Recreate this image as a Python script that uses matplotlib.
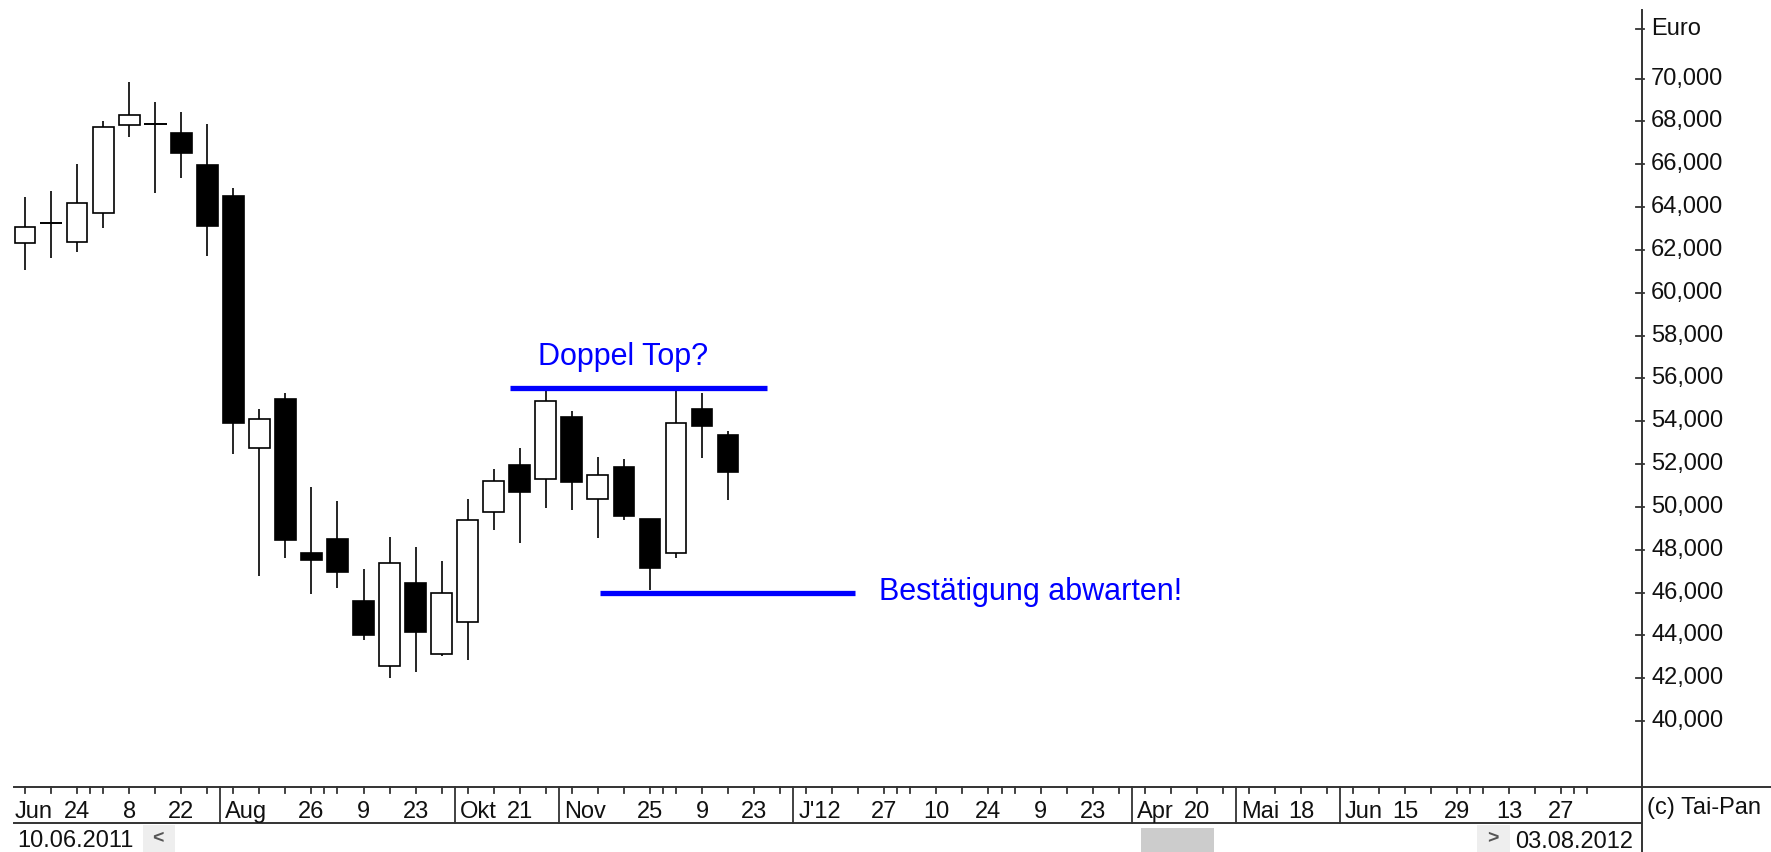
import matplotlib
matplotlib.use("Agg")
import matplotlib.pyplot as plt
from matplotlib.lines import Line2D
from matplotlib.patches import Rectangle
from matplotlib.transforms import blended_transform_factory, offset_copy
import numpy as np

plt.rcParams["font.family"] = ["Liberation Sans", "DejaVu Sans"]

# weekly candles from 10.06.2011 on, prices in Euro
opens = [62.33, 63.27, 62.38, 63.70, 67.83, 67.86, 67.47, 65.96, 64.51, 52.76,
         55.03, 47.86, 48.50, 45.61, 42.58, 46.45, 43.12, 44.63, 49.77, 51.95,
         51.28, 54.21, 50.35, 51.86, 49.44, 47.83, 54.58, 53.37]
highs = [64.48, 64.76, 65.99, 68.03, 69.82, 68.89, 68.42, 67.86, 64.87, 54.57,
         55.30, 50.94, 50.28, 47.09, 48.60, 48.14, 47.47, 50.39, 51.77, 52.73,
         55.45, 54.49, 52.34, 52.25, 49.44, 55.45, 55.33, 53.54]
lows = [61.06, 61.60, 61.91, 63.03, 67.25, 64.64, 65.37, 61.71, 52.46, 46.77,
        47.62, 45.93, 46.19, 43.78, 41.99, 42.27, 43.03, 42.84, 48.92, 48.29,
        49.96, 49.85, 48.56, 49.38, 46.11, 47.59, 52.26, 50.32]
closes = [63.08, 63.27, 64.17, 67.75, 68.31, 67.86, 66.51, 63.13, 53.90, 54.09,
          48.45, 47.51, 46.94, 44.04, 47.37, 44.14, 45.96, 49.41, 51.20, 50.70,
          54.94, 51.16, 51.47, 49.58, 47.13, 53.93, 53.77, 51.62]

y_ticks = np.arange(40, 71, 2)

# date axis: one tick per week (61 weeks up to 03.08.2012)
n_weeks = 61
day_pos = [2, 4, 6, 11, 13, 15, 19, 24, 26, 28, 33, 35, 37, 39, 41, 45, 49, 53, 55, 57, 59]
day_labels = ["24", "8", "22", "26", "9", "23", "21", "25", "9", "23", "27", "10",
              "24", "9", "23", "20", "18", "15", "29", "13", "27"]
month_pos = [7.5, 16.5, 20.5, 29.5, 42.5, 46.5, 50.5]
month_labels = ["Aug", "Okt", "Nov", "J'12", "Apr", "Mai", "Jun"]
minor_month_pos = [2.5, 11.5, 24.5, 33.5, 37.5, 55.5, 59.5]

top_level = 55.53
bottom_level = 46.0

W, H = 1771, 852
AXIS_X = 1641


def fx(x):
    return x / W


def fy(y):
    return 1 - y / H


fig = plt.figure(figsize=(W / 100, H / 100), dpi=100)
fig.patch.set_facecolor("white")

ax = fig.add_axes([0, fy(787), fx(AXIS_X), (787 - 10) / H])
ax.set_xlim(-25 / 26.04, (AXIS_X - 25) / 26.04)
ax.set_ylim(36.92, 73.2)
ax.axis("off")

# candles
for i in range(len(opens)):
    o, h, l, c = opens[i], highs[i], lows[i], closes[i]
    ax.vlines(i, l, h, color="black", lw=1.2, zorder=2)
    if o == c:
        ax.hlines(o, i - 0.44, i + 0.44, color="black", lw=1.4, zorder=3)
    else:
        face = "white" if c > o else "black"
        ax.add_patch(Rectangle((i - 0.4, min(o, c)), 0.8, abs(c - o),
                               facecolor=face, edgecolor="black", lw=1.2, zorder=3))

# double top lines
blue = "#0000ff"
ax.hlines(top_level, 18.63, 28.5, color=blue, lw=3.8, zorder=4)
ax.hlines(bottom_level, 22.08, 31.87, color=blue, lw=3.8, zorder=4)
ax.text(19.7, 56.62, "Doppel Top?", color=blue, fontsize=22, va="baseline", ha="left")
ax.text(32.8, 45.65, "Bestätigung abwarten!", color=blue, fontsize=22, va="baseline", ha="left")

line_col = "#333333"
txt_col = "#111111"

# right price axis
fig.add_artist(Line2D([fx(AXIS_X + 0.5)] * 2, [fy(10), fy(H)], transform=fig.transFigure,
                      color=line_col, lw=1.4))
ytrans = ax.get_yaxis_transform()
lab_trans = offset_copy(ytrans, fig=fig, x=0, y=-6, units="dots")
for v in y_ticks:
    ax.plot([1 - 5 / AXIS_X, 1 + 2.5 / AXIS_X], [v, v], transform=ytrans,
            color=line_col, lw=1.3, clip_on=False)
    ax.text(1651 / AXIS_X, v, f"{v:.3f}".replace(".", ","), transform=lab_trans,
            fontsize=17, color=txt_col, va="baseline", ha="left", clip_on=False)
euro_y = 72.32
ax.plot([1 - 5 / AXIS_X, 1 + 2.5 / AXIS_X], [euro_y, euro_y], transform=ytrans,
        color=line_col, lw=1.3, clip_on=False)
ax.text(1651 / AXIS_X, euro_y, "Euro", transform=lab_trans, fontsize=17, color=txt_col,
        va="baseline", ha="left", clip_on=False)

# date band
fig.add_artist(Line2D([fx(14), 1], [fy(787)] * 2, transform=fig.transFigure, color=line_col, lw=1.4))
fig.add_artist(Line2D([fx(14), fx(AXIS_X)], [fy(823)] * 2, transform=fig.transFigure,
                      color=line_col, lw=1.4))
bt = blended_transform_factory(ax.transData, fig.transFigure)
for i in list(range(n_weeks)) + minor_month_pos:
    fig.add_artist(Line2D([i, i], [fy(787), fy(793)], transform=bt, color=line_col, lw=1.3))
for p in month_pos:
    fig.add_artist(Line2D([p, p], [fy(787), fy(823)], transform=bt, color=line_col, lw=1.3))

for p, lab in zip(day_pos, day_labels):
    fig.text(p, fy(818), lab, transform=bt, fontsize=17, color=txt_col, ha="center", va="baseline")
mtrans = offset_copy(bt, fig=fig, x=5, y=0, units="dots")
for p, lab in zip(month_pos, month_labels):
    fig.text(p, fy(818), lab, transform=mtrans, fontsize=17, color=txt_col, ha="left", va="baseline")
fig.text(fx(15), fy(818), "Jun", fontsize=17, color=txt_col, ha="left", va="baseline")

fig.text(fx(1647), fy(814), "(c) Tai-Pan", fontsize=17, color=txt_col, ha="left", va="baseline")

# scroll bar row
fig.text(fx(17), fy(847), "10.06.2011", fontsize=17, color=txt_col, ha="left", va="baseline")
fig.add_artist(Rectangle((fx(143), fy(852)), 32 / W, 27 / H, transform=fig.transFigure,
                         facecolor="#eeeeee", edgecolor="none"))
fig.text(fx(158), fy(839), "<", fontsize=14, fontweight="bold", color="#555555",
         ha="center", va="center")
fig.add_artist(Rectangle((fx(1141), fy(852)), 73 / W, 24 / H, transform=fig.transFigure,
                         facecolor="#cccccc", edgecolor="none"))
fig.add_artist(Rectangle((fx(1477), fy(852)), 33 / W, 27 / H, transform=fig.transFigure,
                         facecolor="#eeeeee", edgecolor="none"))
fig.text(fx(1493), fy(839), ">", fontsize=14, fontweight="bold", color="#555555",
         ha="center", va="center")
fig.text(fx(1515), fy(848), "03.08.2012", fontsize=17, color=txt_col, ha="left", va="baseline")

fig.savefig("out.png", dpi=100)
